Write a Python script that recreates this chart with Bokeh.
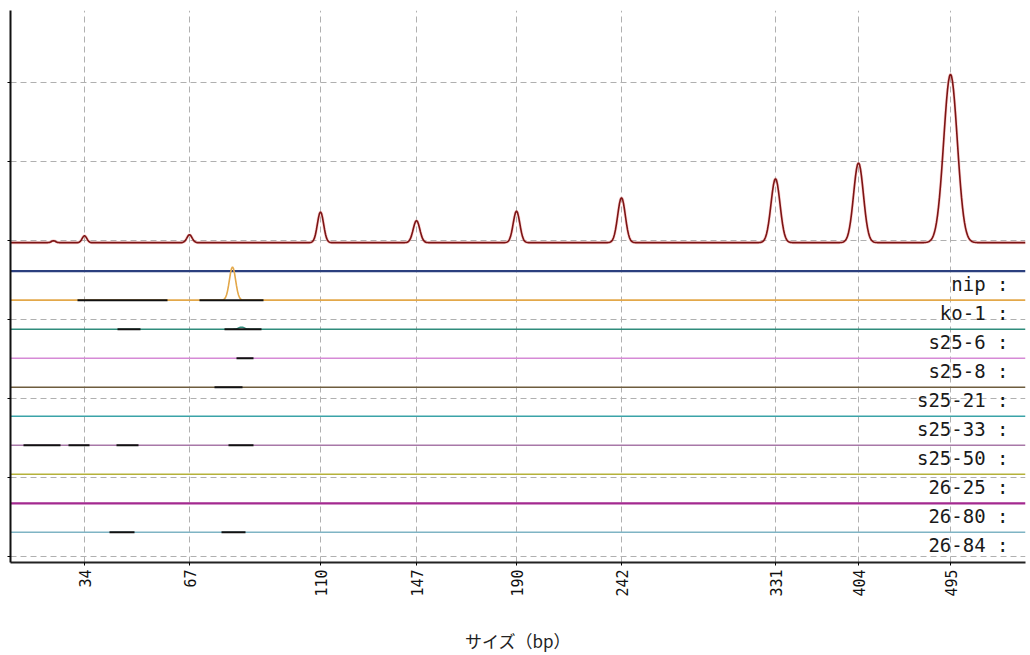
import numpy as np
from bokeh.plotting import figure
from bokeh.models import FixedTicker, Range1d
from bokeh.embed import file_html
from bokeh.resources import INLINE
from bokeh.core.properties import value

# ---------------- data ----------------
# size ladder (bp) and the scan position at which each ladder fragment was detected
ladder_bp = [34, 67, 110, 147, 190, 242, 331, 404, 495]
ladder_scan = [74, 179, 310, 406, 506, 611, 765, 848, 940]
ladder_height = [88, 100, 390, 280, 400, 570, 810, 1010, 2130]
ladder_sigma = [2.3, 2.6, 3.1, 3.3, 3.3, 3.8, 4.5, 4.9, 6.8]
ladder_minor_scan = [43]
ladder_minor_height = [25]

samples = ["nip", "ko-1", "s25-6", "s25-8", "s25-21", "s25-33", "s25-50", "26-25", "26-80", "26-84"]
sample_colors = ["#2b3f7e", "#e3a84a", "#2f8c7c", "#d68ad6", "#6e5d3e",
                 "#3aa3a8", "#a878a8", "#b5b23a", "#a3288f", "#7fb4c4"]
sample_widths = [2.2, 1.6, 1.5, 1.5, 1.5, 1.5, 1.5, 1.7, 2.2, 1.5]
# peaks per sample: (scan, height, sigma)
sample_peaks = [[], [(222, 420, 3.1)], [(231, 25, 3.0)], [], [], [], [], [], [], []]
# black (called) segments per sample: (scan start, scan end)
sample_black = [
    [],
    [(67, 157), (189, 253)],
    [(107, 130), (214, 251)],
    [(226, 243)],
    [(204, 232)],
    [],
    [(13, 50), (58, 79), (106, 128), (218, 243)],
    [],
    [],
    [(99, 124), (211, 235)],
]
grid_levels = [0, 1000, 2000, 3000, 4000, 5000, 6000]

# ---------------- layout constants ----------------
LADDER_BASE = 3970
LANE_TOP = 3610
LANE_STEP = 367
LABEL_OFFSET = -164
X_START, X_END = 0, 1015

p = figure(width=1030, height=655, output_backend="svg", toolbar_location=None,
           x_range=Range1d(X_START, X_END), y_range=Range1d(-75, 6906))
p.min_border_left = 10
p.min_border_right = 5
p.min_border_top = 10
p.min_border_bottom = 89
p.outline_line_color = None
p.background_fill_color = "white"
p.border_fill_color = "white"

# axes
p.xaxis.ticker = FixedTicker(ticks=ladder_scan)
p.xaxis.major_label_overrides = {s: str(b) for s, b in zip(ladder_scan, ladder_bp)}
p.xaxis.major_label_orientation = np.pi / 2
p.xaxis.major_label_text_font = "DejaVu Sans Mono"
p.xaxis.major_label_text_font_size = "15px"
p.xaxis.major_label_text_color = "#111111"
p.xaxis.major_label_standoff = 4
p.xaxis.major_tick_out = 3
p.xaxis.major_tick_in = 0
p.xaxis.minor_tick_out = 0
p.xaxis.minor_tick_in = 0
p.xaxis.axis_line_width = 2
p.xaxis.axis_line_color = "#222222"
p.xaxis.axis_label = "サイズ（bp）"
p.xaxis.axis_label_text_font = "Noto Sans CJK JP"
p.xaxis.axis_label_text_font_size = "17px"
p.xaxis.axis_label_text_font_style = "normal"
p.xaxis.axis_label_text_color = "#222222"
p.xaxis.axis_label_standoff = 28

p.yaxis.ticker = FixedTicker(ticks=grid_levels)
p.yaxis.major_label_overrides = {v: "" for v in grid_levels}
p.yaxis.major_label_text_font_size = "1px"
p.yaxis.major_label_standoff = 0
p.yaxis.major_tick_out = 3
p.yaxis.major_tick_in = 0
p.yaxis.minor_tick_out = 0
p.yaxis.minor_tick_in = 0
p.yaxis.axis_line_width = 2
p.yaxis.axis_line_color = "#111111"

for g in (p.xgrid, p.ygrid):
    g.grid_line_color = "#b0b0b0"
    g.grid_line_dash = "6 4"
    g.grid_line_width = 1
p.xgrid.ticker = FixedTicker(ticks=ladder_scan)
p.ygrid.ticker = FixedTicker(ticks=grid_levels)

scan = np.arange(X_START, X_END + 1, 1.0)

# ladder trace
ladder = np.full_like(scan, LADDER_BASE, dtype=float)
for c, h, s in zip(ladder_scan, ladder_height, ladder_sigma):
    ladder += h * np.exp(-0.5 * ((scan - c) / s) ** 2)
for c, h in zip(ladder_minor_scan, ladder_minor_height):
    ladder += h * np.exp(-0.5 * ((scan - c) / 2.0) ** 2)
p.line(scan, ladder, line_color="#f08080", line_width=3, line_alpha=0.35)
p.line(scan, ladder, line_color="#7d1414", line_width=1.6)

# sample lanes
for i, name in enumerate(samples):
    base = LANE_TOP - LANE_STEP * i
    trace = np.full_like(scan, base, dtype=float)
    for c, h, s in sample_peaks[i]:
        trace += h * np.exp(-0.5 * ((scan - c) / s) ** 2)
    p.line(scan, trace, line_color=sample_colors[i], line_width=sample_widths[i])
    for a, b in sample_black[i]:
        p.line([a, b], [base, base], line_color="#111111", line_width=2)
    p.text(x=[998], y=[base + LABEL_OFFSET], text=[name + " :"],
           text_align="right", text_baseline="middle",
           text_font=value("DejaVu Sans Mono"), text_font_size="19px",
           text_color="#1a1a1a")

open("out.html", "w").write(file_html(p, INLINE))
